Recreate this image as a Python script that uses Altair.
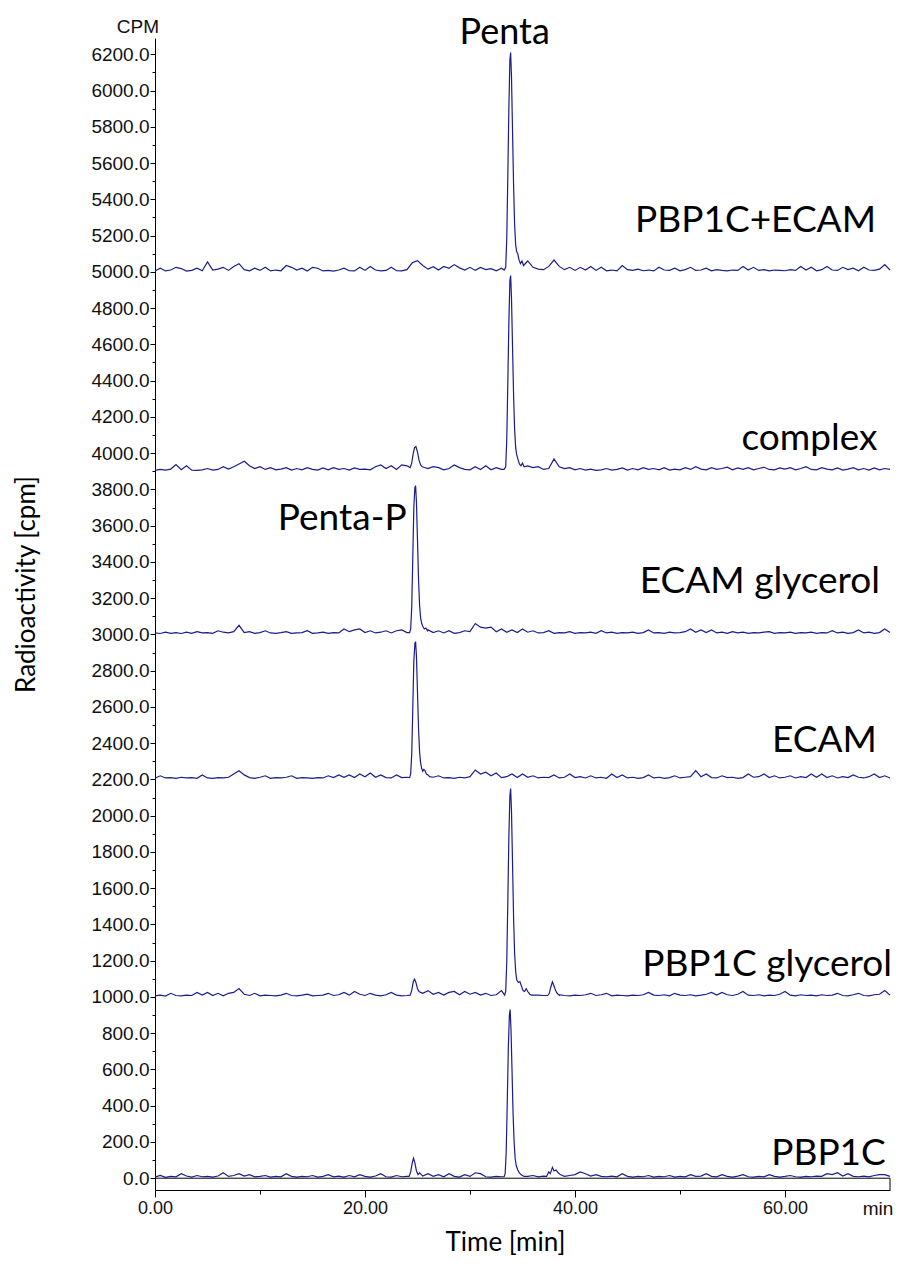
import altair as alt
import pandas as pd

# ---------------- data ----------------
trace_names = ["PBP1C+ECAM", "complex", "ECAM glycerol", "ECAM", "PBP1C glycerol", "PBP1C"]
trace_offsets = [5000, 3900, 3000, 2200, 1000, 0]

# time grid for baseline readings (min), 0 .. 70 in 0.5 min steps
grid_t = [i * 0.5 for i in range(141)]

# baseline noise (cpm above each trace's baseline)
noise_pbp1c_ecam = [
    5, 20, 5, 10, 25, 18, 4, 8, 20, 6,
    55, 10, 15, 25, 8, 30, 45, 12, 6, 20,
    8, 25, 5, 10, 6, 35, 25, 10, 20, 5,
    25, 20, 5, 8, 4, 10, 20, 6, 5, 25,
    8, 30, 10, 5, 8, 25, 6, 5, 12, 50,
    62, 35, 15, 28, 10, 30, 20, 40, 22, 10,
    25, 8, 24, 12, 18, 6, 20, 10, 10, 10,
    10, 60, 25, 15, 12, 30, 65, 30, 12, 25,
    8, 25, 10, 30, 8, 25, 6, 10, 5, 35,
    12, 8, 15, 6, 10, 5, 25, 10, 8, 20,
    6, 12, 25, 8, 10, 20, 6, 12, 8, 5,
    10, 8, 30, 10, 25, 8, 12, 5, 10, 8,
    6, 12, 8, 30, 10, 25, 6, 12, 30, 10,
    8, 25, 12, 20, 6, 25, 10, 8, 15, 40,
    10]
noise_complex = [
    5, 10, 6, 12, 37, 8, 30, 6, 5, 8,
    15, 6, 10, 25, 12, 25, 40, 55, 30, 15,
    25, 10, 20, 8, 12, 20, 6, 15, 8, 20,
    10, 6, 18, 8, 20, 10, 15, 6, 18, 10,
    12, 8, 25, 35, 15, 30, 10, 35, 30, 20,
    20, 20, 15, 25, 20, 8, 15, 35, 20, 10,
    8, 25, 10, 30, 8, 20, 10, 10, 10, 10,
    10, 30, 20, 25, 10, 15, 68, 25, 15, 20,
    8, 15, 6, 12, 5, 8, 15, 6, 10, 18,
    6, 15, 8, 20, 10, 15, 8, 20, 6, 12,
    8, 20, 10, 25, 12, 8, 20, 10, 15, 22,
    8, 18, 10, 20, 8, 15, 22, 10, 8, 18,
    12, 20, 8, 15, 25, 10, 8, 20, 12, 8,
    18, 6, 12, 20, 8, 15, 6, 18, 8, 15,
    10]
noise_ecam_glycerol = [
    8, 5, 12, 6, 10, 5, 12, 6, 15, 8,
    10, 6, 20, 12, 8, 15, 50, 10, 15, 6,
    10, 20, 8, 6, 10, 15, 6, 8, 10, 20,
    6, 8, 12, 6, 10, 8, 30, 15, 25, 30,
    10, 20, 8, 12, 20, 8, 20, 25, 10, 10,
    10, 10, 25, 10, 20, 8, 20, 6, 10, 20,
    15, 60, 40, 35, 40, 15, 30, 12, 25, 10,
    30, 12, 20, 8, 10, 20, 6, 10, 8, 15,
    6, 10, 8, 12, 6, 20, 8, 12, 6, 10,
    8, 12, 6, 10, 25, 8, 10, 6, 12, 8,
    10, 15, 30, 12, 25, 10, 25, 8, 12, 6,
    15, 8, 12, 6, 10, 8, 12, 15, 6, 10,
    8, 12, 6, 10, 8, 12, 6, 10, 8, 20,
    8, 12, 6, 10, 25, 8, 12, 6, 10, 30,
    10]
noise_ecam = [
    6, 20, 8, 10, 6, 12, 8, 10, 6, 25,
    8, 6, 10, 8, 12, 30, 48, 25, 10, 6,
    12, 20, 6, 10, 8, 12, 20, 6, 10, 8,
    6, 10, 8, 20, 10, 25, 12, 25, 10, 30,
    15, 35, 12, 25, 10, 8, 25, 10, 12, 10,
    10, 10, 10, 12, 20, 8, 10, 6, 12, 8,
    15, 52, 30, 40, 20, 35, 10, 15, 30, 10,
    30, 12, 20, 8, 12, 10, 25, 8, 12, 30,
    10, 15, 8, 20, 8, 12, 6, 30, 10, 25,
    8, 12, 6, 10, 25, 8, 12, 6, 10, 20,
    8, 12, 15, 48, 15, 30, 10, 8, 20, 10,
    12, 6, 10, 30, 12, 15, 30, 10, 20, 8,
    12, 20, 8, 15, 10, 30, 12, 30, 10, 20,
    8, 15, 10, 25, 12, 8, 15, 30, 10, 20,
    8]
noise_pbp1c_glycerol = [
    6, 10, 5, 20, 8, 6, 10, 8, 25, 10,
    25, 8, 20, 6, 20, 25, 46, 15, 8, 20,
    6, 10, 8, 6, 10, 20, 8, 6, 10, 15,
    6, 8, 10, 20, 8, 12, 25, 10, 30, 15,
    8, 20, 10, 6, 12, 25, 10, 6, 8, 10,
    10, 20, 35, 15, 25, 10, 25, 30, 12, 30,
    15, 25, 10, 20, 8, 12, 35, 10, 10, 10,
    10, 10, 10, 10, 8, 10, 10, 10, 8, 6,
    10, 8, 12, 20, 8, 12, 20, 6, 10, 8,
    6, 10, 8, 12, 25, 10, 8, 12, 6, 20,
    10, 8, 12, 6, 10, 15, 25, 10, 25, 12,
    8, 15, 30, 10, 8, 12, 6, 10, 8, 15,
    30, 10, 6, 12, 8, 10, 6, 12, 8, 10,
    20, 8, 6, 12, 20, 8, 6, 12, 15, 35,
    10]
noise_pbp1c = [
    6, 15, 5, 10, 8, 25, 12, 6, 15, 8,
    10, 6, 12, 30, 10, 15, 25, 12, 20, 8,
    10, 15, 6, 10, 8, 25, 10, 6, 10, 8,
    15, 6, 10, 20, 8, 12, 6, 15, 8, 20,
    10, 6, 12, 25, 8, 6, 15, 8, 10, 10,
    10, 12, 25, 10, 20, 8, 25, 10, 6, 20,
    10, 30, 25, 8, 6, 10, 8, 10, 10, 10,
    10, 10, 15, 8, 12, 10, 10, 10, 10, 15,
    20, 35, 25, 12, 20, 10, 8, 12, 8, 25,
    10, 6, 10, 8, 15, 6, 10, 8, 15, 6,
    10, 8, 20, 10, 12, 25, 10, 8, 20, 10,
    6, 12, 20, 8, 6, 10, 8, 20, 10, 6,
    10, 15, 8, 6, 10, 8, 12, 10, 25, 20,
    30, 12, 25, 10, 8, 12, 8, 15, 20, 20,
    10]

# peaks (time in min, cpm above baseline)
pk1_main_t = [33.25, 33.4, 33.5, 33.6, 33.7, 33.8, 33.87, 33.95, 34.05, 34.15, 34.25, 34.35, 34.45, 34.55, 34.65, 34.8, 34.95, 35.1]
pk1_main_v = [10, 25, 180, 520, 900, 1170, 1210, 1080, 780, 480, 260, 150, 110, 100, 70, 45, 60, 35]

pk2_small_t = [24.3, 24.45, 24.6, 24.72, 24.85, 25.0, 25.15, 25.3, 25.45, 25.6]
pk2_small_v = [20, 45, 100, 130, 136, 105, 60, 35, 25, 22]
pk2_main_t = [33.25, 33.4, 33.5, 33.6, 33.7, 33.8, 33.87, 33.95, 34.05, 34.15, 34.25, 34.35, 34.45, 34.55, 34.7, 34.85, 35.0, 35.15]
pk2_main_v = [10, 25, 170, 480, 820, 1050, 1080, 960, 690, 420, 230, 130, 90, 70, 40, 30, 45, 25]

pk3_main_t = [24.25, 24.35, 24.45, 24.55, 24.65, 24.75, 24.82, 24.9, 25.0, 25.1, 25.2, 25.3, 25.4, 25.5, 25.65, 25.8, 25.95]
pk3_main_v = [10, 30, 150, 420, 700, 810, 820, 730, 520, 300, 160, 90, 60, 45, 30, 35, 20]

pk4_main_t = [24.25, 24.35, 24.45, 24.55, 24.65, 24.75, 24.82, 24.9, 25.0, 25.1, 25.2, 25.3, 25.4, 25.5, 25.6, 25.7, 25.85, 26.0, 26.15]
pk4_main_v = [10, 30, 140, 390, 650, 750, 760, 680, 480, 280, 150, 90, 60, 45, 55, 50, 30, 25, 15]

pk5_small_t = [24.3, 24.45, 24.6, 24.72, 24.85, 25.0, 25.15, 25.3]
pk5_small_v = [10, 35, 85, 98, 80, 45, 30, 25]
pk5_main_t = [33.3, 33.4, 33.5, 33.6, 33.7, 33.8, 33.87, 33.95, 34.05, 34.15, 34.25, 34.35, 34.45, 34.6, 34.75, 34.9, 35.05, 35.2, 35.35, 35.5, 35.7, 35.85]
pk5_main_v = [10, 30, 190, 520, 880, 1110, 1150, 1030, 740, 440, 240, 140, 95, 80, 85, 60, 35, 30, 45, 30, 15, 10]
pk5_late_t = [37.4, 37.55, 37.7, 37.85, 38.0, 38.15, 38.3, 38.5]
pk5_late_v = [8, 20, 55, 83, 60, 35, 20, 12]

pk6_small_t = [24.2, 24.35, 24.5, 24.62, 24.75, 24.9, 25.05, 25.2]
pk6_small_v = [10, 35, 85, 110, 85, 40, 20, 30]
pk6_main_t = [33.25, 33.35, 33.45, 33.55, 33.65, 33.75, 33.82, 33.9, 34.0, 34.1, 34.2, 34.3, 34.4, 34.55, 34.7, 34.85, 35.0, 35.15]
pk6_main_v = [8, 25, 150, 420, 720, 900, 930, 830, 600, 360, 200, 110, 70, 45, 30, 20, 15, 10]
pk6_late_t = [37.3, 37.5, 37.65, 37.85, 38.0, 38.2, 38.4, 38.6, 38.8]
pk6_late_v = [10, 35, 25, 60, 40, 45, 30, 20, 15]

trace_noise = [noise_pbp1c_ecam, noise_complex, noise_ecam_glycerol, noise_ecam, noise_pbp1c_glycerol, noise_pbp1c]
trace_peaks = [
    [(pk1_main_t, pk1_main_v)],
    [(pk2_small_t, pk2_small_v), (pk2_main_t, pk2_main_v)],
    [(pk3_main_t, pk3_main_v)],
    [(pk4_main_t, pk4_main_v)],
    [(pk5_small_t, pk5_small_v), (pk5_main_t, pk5_main_v), (pk5_late_t, pk5_late_v)],
    [(pk6_small_t, pk6_small_v), (pk6_main_t, pk6_main_v), (pk6_late_t, pk6_late_v)],
]

# annotation texts
label_right_text = ["PBP1C+ECAM", "complex", "ECAM glycerol", "ECAM", "PBP1C glycerol", "PBP1C"]
label_right_t = [68.67, 68.8, 69.05, 68.76, 70.19, 69.6]
label_right_v = [5220, 4017, 3228, 2351, 1116, 73]
peak_label_text = ["Penta", "Penta-P"]
peak_label_t = [33.3, 11.7]
peak_label_v = [6257, 3576]
peak_label_align = ["center", "left"]
peak_label_size = [36, 37]
unit_text = ["CPM", "min"]
unit_t = [0.38, 68.86]
unit_v = [6318, -203]

# ---------------- build table ----------------
rows = []
for name, off, noise, peaks in zip(trace_names, trace_offsets, trace_noise, trace_peaks):
    pts = []
    for t, v in zip(grid_t, noise):
        if any(pt[0] < t < pt[-1] for pt, _ in peaks):
            continue
        pts.append((t, v))
    for pt, pv in peaks:
        pts.extend(zip(pt, pv))
    pts.sort()
    for t, v in pts:
        rows.append({"trace": name, "t": t, "v": off + v})
df = pd.DataFrame(rows)

LINE_COLOR = "#1c1c8c"
TITLE_FONT = "Lato"
AXIS_FONT = "Liberation Sans"
X_DOMAIN = [0, 70]
Y_DOMAIN = [-65, 6290]

xscale = alt.Scale(domain=X_DOMAIN, nice=False, zero=False)
yscale = alt.Scale(domain=Y_DOMAIN, nice=False, zero=False)

xaxis = alt.Axis(
    values=[0, 10, 20, 30, 40, 50, 60],
    labelExpr="datum.value % 20 === 0 ? format(datum.value, '.2f') : ''",
    tickSize={"condition": {"test": "datum.value % 20 === 0", "value": 7}, "value": 4},
    labelFont=AXIS_FONT, labelFontSize=18, labelColor="#111",
    labelPadding=2, labelOverlap=False, labelFlush=False,
    domainColor="black", tickColor="black", grid=False,
    title="Time [min]", titleFont=TITLE_FONT, titleFontSize=26, titleFontWeight="normal",
    titleColor="black", titleX=350, titleY=60, titleBaseline="alphabetic", titleAlign="center",
)
yaxis = alt.Axis(
    values=list(range(0, 6201, 100)),
    labelExpr="datum.value % 200 === 0 ? format(datum.value, '.1f') : ''",
    tickSize={"condition": {"test": "datum.value % 200 === 0", "value": 5}, "value": 3},
    labelFont=AXIS_FONT, labelFontSize=19, labelColor="#111",
    labelPadding=1, labelOverlap=False, labelFlush=False,
    domainColor="black", tickColor="black", grid=False,
    title="Radioactivity [cpm]", titleFont=TITLE_FONT, titleFontSize=26, titleFontWeight="normal",
    titleColor="black", titleX=-121, titleY=546, titleAngle=270, titleBaseline="alphabetic",
    titleAlign="center",
)

X_ENC = alt.X("t:Q", scale=xscale, axis=xaxis)
Y_ENC = alt.Y("v:Q", scale=yscale, axis=yaxis)

lines = alt.Chart(df).mark_line(color=LINE_COLOR, strokeWidth=1.2).encode(
    x=X_ENC, y=Y_ENC, detail="trace:N", order="t:Q",
)

frame_df = pd.DataFrame({"t": [X_DOMAIN[0], X_DOMAIN[1]], "t2": [X_DOMAIN[1], X_DOMAIN[1]],
                         "v": [0, Y_DOMAIN[0]], "v2": [0, 0]})
frame = alt.Chart(frame_df).mark_rule(color="black", strokeWidth=1).encode(
    x=X_ENC, x2="t2:Q", y=Y_ENC, y2="v2:Q",
)

right_df = pd.DataFrame({"label": label_right_text, "t": label_right_t, "v": label_right_v})
right_labels = alt.Chart(right_df).mark_text(
    align="right", baseline="alphabetic", font=TITLE_FONT, fontSize=37, color="black"
).encode(x=X_ENC, y=Y_ENC, text="label:N")

peak_layers = []
for txt, t, v, al, fs in zip(peak_label_text, peak_label_t, peak_label_v, peak_label_align, peak_label_size):
    pdf = pd.DataFrame({"label": [txt], "t": [t], "v": [v]})
    peak_layers.append(
        alt.Chart(pdf).mark_text(
            align=al, baseline="alphabetic", font=TITLE_FONT, fontSize=fs, color="black"
        ).encode(x=X_ENC, y=Y_ENC, text="label:N")
    )

unit_layers = []
for txt, t, v, al in zip(unit_text, unit_t, unit_v, ["right", "center"]):
    udf = pd.DataFrame({"label": [txt], "t": [t], "v": [v]})
    unit_layers.append(
        alt.Chart(udf).mark_text(
            align=al, baseline="alphabetic", font=AXIS_FONT, fontSize=19, color="#111"
        ).encode(x=X_ENC, y=Y_ENC, text="label:N")
    )

chart = alt.layer(
    lines, frame, right_labels, *peak_layers, *unit_layers
).properties(
    width=735, height=1152,
    padding={"left": 147, "top": 30, "right": 3, "bottom": 66},
    autosize=alt.AutoSizeParams(type="none"),
).configure_view(stroke=None)

chart.save("out.html", embed_options={"renderer": "svg", "actions": False})
